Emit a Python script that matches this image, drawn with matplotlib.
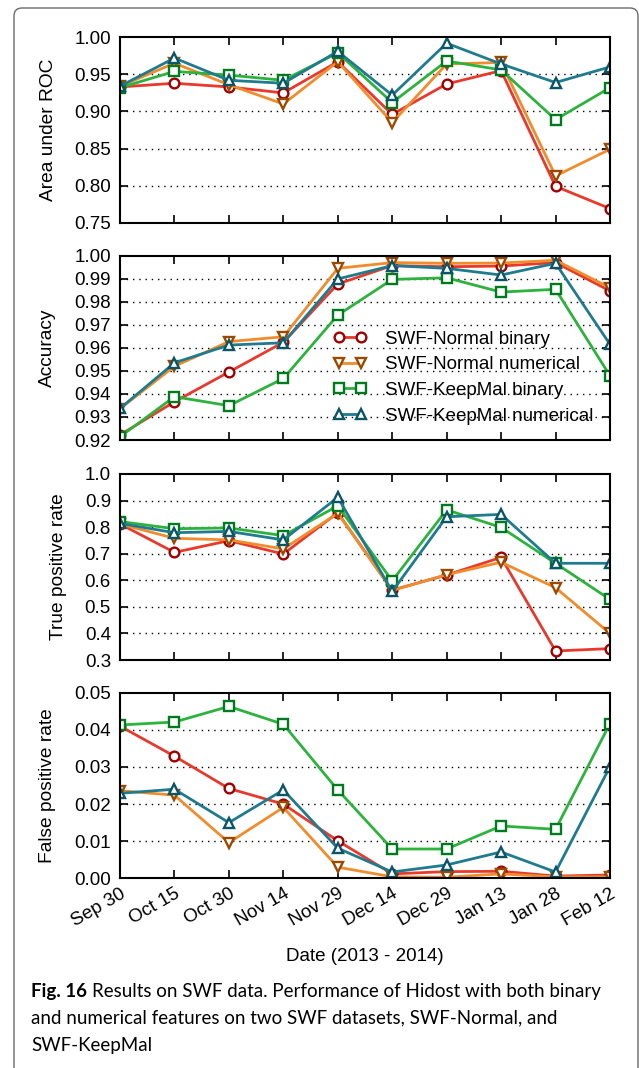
import numpy as np
import matplotlib.pyplot as plt
from matplotlib.patches import FancyBboxPatch
from matplotlib.ticker import FormatStrFormatter

plt.rcParams['font.family'] = ['Liberation Sans', 'DejaVu Sans']

# dates on the x axis
dates = ['Sep 30', 'Oct 15', 'Oct 30', 'Nov 14', 'Nov 29',
         'Dec 14', 'Dec 29', 'Jan 13', 'Jan 28', 'Feb 12']

series_names = ['SWF-Normal binary', 'SWF-Normal numerical',
                'SWF-KeepMal binary', 'SWF-KeepMal numerical']

# Area under ROC
auc_normal_bin = [0.933, 0.938, 0.933, 0.925, 0.967, 0.896, 0.937, 0.955, 0.799, 0.769]
auc_normal_num = [0.934, 0.965, 0.936, 0.910, 0.967, 0.885, 0.964, 0.966, 0.813, 0.849]
auc_keep_bin = [0.932, 0.954, 0.949, 0.942, 0.979, 0.912, 0.968, 0.956, 0.889, 0.932]
auc_keep_num = [0.934, 0.972, 0.942, 0.938, 0.981, 0.922, 0.992, 0.964, 0.939, 0.960]

# Accuracy
acc_normal_bin = [0.9222, 0.9366, 0.9495, 0.9624, 0.9877, 0.9957, 0.9952, 0.9955, 0.9970, 0.9847]
acc_normal_num = [0.9336, 0.9520, 0.9627, 0.9648, 0.9945, 0.9970, 0.9967, 0.9968, 0.9980, 0.9861]
acc_keep_bin = [0.9214, 0.9388, 0.9349, 0.9467, 0.9742, 0.9897, 0.9904, 0.9842, 0.9854, 0.9479]
acc_keep_num = [0.9337, 0.9535, 0.9612, 0.9622, 0.9899, 0.9957, 0.9945, 0.9916, 0.9967, 0.9615]

# True positive rate
tpr_normal_bin = [0.812, 0.705, 0.749, 0.699, 0.854, 0.563, 0.620, 0.686, 0.334, 0.343]
tpr_normal_num = [0.812, 0.758, 0.752, 0.718, 0.852, 0.562, 0.621, 0.668, 0.572, 0.400]
tpr_keep_bin = [0.821, 0.794, 0.797, 0.768, 0.880, 0.598, 0.865, 0.799, 0.664, 0.528]
tpr_keep_num = [0.814, 0.779, 0.784, 0.752, 0.912, 0.558, 0.839, 0.848, 0.664, 0.664]

# False positive rate
fpr_normal_bin = [0.0410, 0.0329, 0.0242, 0.0200, 0.0101, 0.0012, 0.0018, 0.0019, 0.0006, 0.0009]
fpr_normal_num = [0.0236, 0.0224, 0.0096, 0.0191, 0.0030, 0.0004, 0.0003, 0.0012, 0.0004, 0.0004]
fpr_keep_bin = [0.0413, 0.0421, 0.0463, 0.0415, 0.0238, 0.0079, 0.0079, 0.0141, 0.0132, 0.0417]
fpr_keep_num = [0.0229, 0.0240, 0.0150, 0.0238, 0.0081, 0.0017, 0.0036, 0.0071, 0.0017, 0.0301]

line_colors = ['#e8392d', '#f08c2c', '#2db23e', '#1f7b8d']
edge_colors = ['#a00000', '#9a4a00', '#007a1e', '#0b5566']
markers = ['o', 'v', 's', '^']

panels = [
    ('Area under ROC', [auc_normal_bin, auc_normal_num, auc_keep_bin, auc_keep_num],
     (0.75, 1.00), np.arange(0.75, 1.001, 0.05), '%.2f', -0.129),
    ('Accuracy', [acc_normal_bin, acc_normal_num, acc_keep_bin, acc_keep_num],
     (0.92, 1.00), np.arange(0.92, 1.0001, 0.01), '%.2f', -0.131),
    ('True positive rate', [tpr_normal_bin, tpr_normal_num, tpr_keep_bin, tpr_keep_num],
     (0.3, 1.0), np.arange(0.3, 1.001, 0.1), '%.1f', -0.108),
    ('False positive rate', [fpr_normal_bin, fpr_normal_num, fpr_keep_bin, fpr_keep_num],
     (0.0, 0.05), np.arange(0.0, 0.0501, 0.01), '%.2f', -0.131),
]

fig = plt.figure(figsize=(6.39, 10.68), dpi=100)

# rounded frame around the figure (open at the bottom)
frame = FancyBboxPatch((0.14, -1.0), 6.24, 11.6, boxstyle='round,pad=0,rounding_size=0.08',
                       transform=fig.dpi_scale_trans, fill=False, edgecolor='#6a6a6a',
                       linewidth=1.0)
fig.patches.append(frame)

bottoms = [0.7915, 0.5880, 0.3820, 0.1776]
heights = [0.1736, 0.1726, 0.1742, 0.1738]
x = np.arange(len(dates))

axes = []
for i, (ylabel, data, ylim, yticks, fmt, labx) in enumerate(panels):
    ax = fig.add_axes([0.1878, bottoms[i], 0.7668, heights[i]])
    axes.append(ax)
    for k in range(4):
        ax.plot(x, data[k], color=line_colors[k], lw=2.0, marker=markers[k],
                markersize=7, markerfacecolor='white', markeredgecolor=edge_colors[k],
                markeredgewidth=1.7, label=series_names[k])
    ax.set_xlim(0, 9)
    ax.set_ylim(*ylim)
    ax.set_yticks(yticks)
    ax.yaxis.set_major_formatter(FormatStrFormatter(fmt))
    ax.set_xticks(x)
    for yv in yticks[1:-1]:
        ax.axhline(yv, color='black', lw=1.0, ls=(0, (1, 3.5)), zorder=0.5)
    ax.tick_params(direction='in', length=6, width=1.2, top=True, right=True,
                   labelsize=13.5, pad=6.5)
    for s in ax.spines.values():
        s.set_linewidth(1.5)
    ax.set_ylabel(ylabel, fontsize=13.8)
    ax.yaxis.set_label_coords(labx, 0.5)
    if i < 3:
        ax.set_xticklabels([])
    else:
        ax.tick_params(axis='x', pad=5)
        ax.set_xticklabels(dates, rotation=30, ha='right', rotation_mode='anchor')
        ax.set_xlabel('Date (2013 - 2014)', fontsize=13.5, labelpad=13)

leg = axes[1].legend(loc='lower right', bbox_to_anchor=(0.982, 0.043), fontsize=13.5,
                     numpoints=2, handlelength=1.75, handletextpad=1.0,
                     labelspacing=0.45, borderpad=0.4, borderaxespad=0,
                     fancybox=True, framealpha=0, edgecolor='#7a7a7a')
leg.get_frame().set_linewidth(1.2)
leg.get_frame().set_boxstyle('round,pad=0,rounding_size=0.25')

# caption: bold figure number, then the regular text
cap_x = 31.5 / 639
cap_y = [1 - 997 / 1068, 1 - 1023 / 1068, 1 - 1051 / 1068]
fignum = fig.text(cap_x, cap_y[0], 'Fig. 16', fontsize=13.5, va='baseline',
                  family='Lato', weight='bold')
axes[3].annotate('Results on SWF data. Performance of Hidost with both binary',
                 xy=(1, 0), xycoords=fignum, xytext=(3.5, 0), textcoords='offset points',
                 va='bottom', ha='left', fontsize=13.5, family='Lato',
                 annotation_clip=False)
fig.text(cap_x, cap_y[1], 'and numerical features on two SWF datasets, SWF-Normal, and',
         fontsize=13.5, va='baseline', family='Lato')
fig.text(cap_x, cap_y[2], 'SWF-KeepMal', fontsize=13.5, va='baseline', family='Lato')

fig.savefig('out.png', dpi=100)
